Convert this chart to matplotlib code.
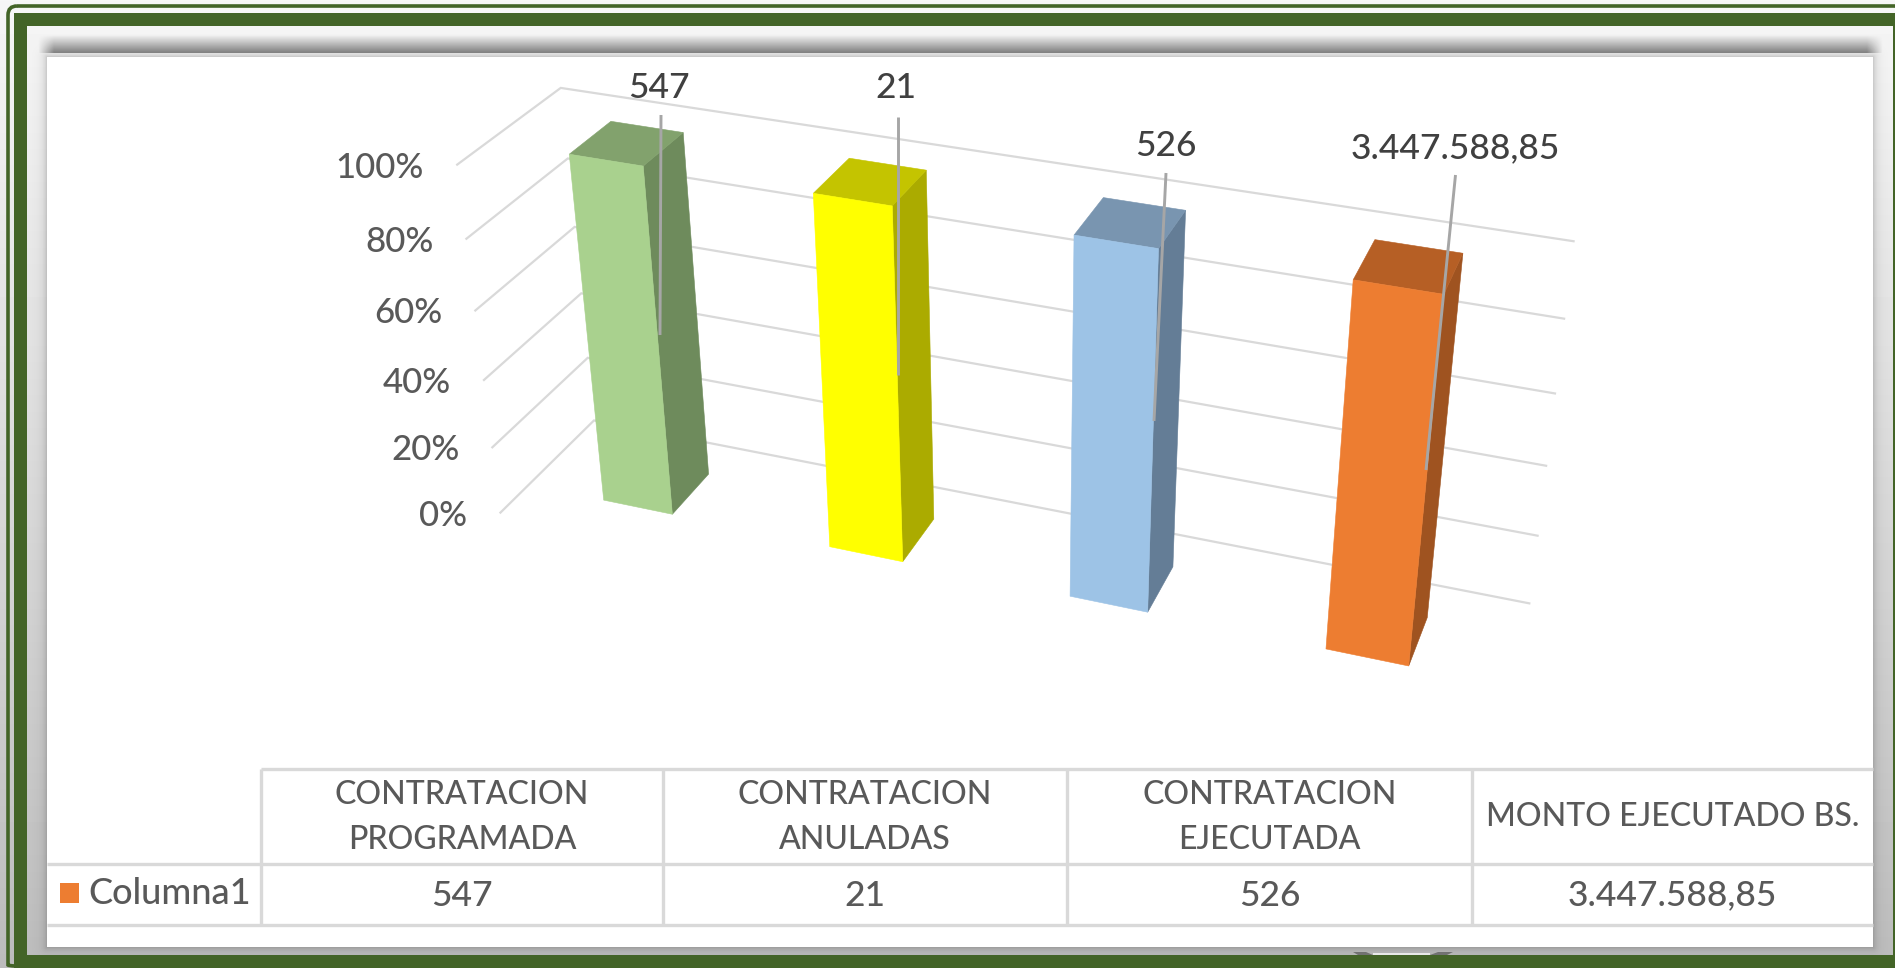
import numpy as np
import matplotlib
matplotlib.use("Agg")
import matplotlib.pyplot as plt
from matplotlib.patches import FancyBboxPatch, Polygon, Rectangle

plt.rcParams["font.family"] = ["Lato", "DejaVu Sans"]
plt.rcParams["font.weight"] = "medium"

# data
categories = ["CONTRATACION\nPROGRAMADA", "CONTRATACION\nANULADAS", "CONTRATACION\nEJECUTADA", "MONTO EJECUTADO BS."]
values = np.array([547, 21, 526, 3447588.85])
value_labels = ["547", "21", "526", "3.447.588,85"]
series_name = "Columna1"
pct_ticks = [0, 20, 40, 60, 80, 100]

front_colors = ["#A9D18E", "#FFFF00", "#9DC3E6", "#ED7D31"]
top_colors = ["#82A26D", "#C4C400", "#7995B0", "#B65F25"]
side_colors = ["#6E8B5C", "#ABAB00", "#647D96", "#9F5320"]

# 100% stacked with one series, every column fills the axis
shares = 100 * values / values

# camera of the 3d chart: x in categories, depth 0-1, fraction of the axis
CAMERA = np.array([
    [203.216, 131.5408, -78.1278, 500.4598],
    [30.67037, -65.23552, -360.5162, 512.5949],
    [-0.02981236, 0.06402897, -0.07622561, 1.0],
])
BAR_W = 0.31
DEPTH = (0.29, 0.71)

GREEN = "#436427"
GRID = "#D9D9D9"
TEXT = "#595959"
LABEL = "#404040"

PANEL = (47, 57, 1873, 947)  # left, top, right, bottom in pixels


def project(x, d, pct):
    h = CAMERA @ np.array([x, d, pct / 100, 1.0])
    return h[0] / h[2], h[1] / h[2]


def draw_frame(ax):
    w, h = 1895, 968
    shade = np.linspace(0.965, 0.735, h)[:, None]
    ax.imshow(shade, cmap="gray", vmin=0, vmax=1, extent=(0, w, h, 0), aspect="auto", zorder=0)

    ax.add_patch(FancyBboxPatch((8, 6), w, h, boxstyle="round,pad=0,rounding_size=9",
                                fc="none", ec=GREEN, lw=2.6, zorder=1))
    ax.add_patch(Rectangle((14, 13), w, h, fc=GREEN, ec="none", zorder=1))
    ax.imshow(shade[26:955], cmap="gray", vmin=0, vmax=1, extent=(27, 1893, 955, 26),
              aspect="auto", zorder=2)

    # soft shadow around the panel, heavier along the top
    xx, yy = np.meshgrid(np.arange(27, 1893) + 0.5, np.arange(26, 955) + 0.5)
    l, t, r, b = PANEL
    dx = np.maximum(np.maximum(l - xx, xx - r), 0)
    dy = np.maximum(np.maximum(t - yy, yy - b), 0)
    alpha = 0.18 * np.exp(-np.hypot(dx, dy) / 4.0)
    top_x = np.clip((xx - 38) / 16, 0, 1) * np.clip((1883 - xx) / 16, 0, 1)
    top_y = np.clip((yy - 35) / 17, 0, 1) * (yy < 53)
    alpha = np.maximum(alpha, 0.46 * top_x * top_y)
    rgba = np.zeros(alpha.shape + (4,))
    rgba[..., 3] = alpha
    ax.imshow(rgba, extent=(27, 1893, 955, 26), aspect="auto", zorder=3)

    ax.add_patch(Rectangle((l, t), r - l, b - t, fc="white", ec="none", zorder=4))

    # bit of a picture hiding under the bottom edge
    ax.add_patch(Polygon([(1353, 952), (1366, 952), (1373, 955), (1358, 955)], fc="#555555", ec="none", alpha=0.7, zorder=5))
    ax.add_patch(Polygon([(1453, 952), (1438, 952), (1430, 955), (1447, 955)], fc="#555555", ec="none", alpha=0.7, zorder=5))
    ax.add_patch(Polygon([(1373, 953), (1430, 953), (1430, 955), (1373, 955)], fc="white", ec="none", alpha=0.7, zorder=5))


def draw_walls(ax):
    for t in pct_ticks:
        pts = [project(0, 0, t), project(0, 1, t), project(len(values), 1, t)]
        ax.plot(*zip(*pts), color=GRID, lw=1.6, solid_joinstyle="miter", zorder=6)
        ax.text(pts[0][0] - 33, pts[0][1] + 3, f"{t}%", color=TEXT, fontsize=25,
                ha="right", va="center", zorder=6)


def draw_bars(ax):
    d0, d1 = DEPTH
    for i, pct in enumerate(shares):
        x0, x1 = i + 0.5 - BAR_W / 2, i + 0.5 + BAR_W / 2
        front = [project(x0, d0, 0), project(x1, d0, 0), project(x1, d0, pct), project(x0, d0, pct)]
        top = [project(x0, d0, pct), project(x1, d0, pct), project(x1, d1, pct), project(x0, d1, pct)]
        side = [project(x1, d0, 0), project(x1, d1, 0), project(x1, d1, pct), project(x1, d0, pct)]
        for poly, c in [(side, side_colors[i]), (top, top_colors[i]), (front, front_colors[i])]:
            ax.add_patch(Polygon(poly, fc=c, ec=c, lw=0.4, zorder=7))


def draw_labels(ax):
    label_xy = [(658.5, 88), (895.6, 88), (1165.5, 146), (1455.5, 148)]
    leaders = [((661, 115), (660, 335)), ((898, 117), (898, 375)),
               ((1166, 173), (1154, 421)), ((1455.5, 175), (1426, 470))]
    for txt, (x, y), (p, q) in zip(value_labels, label_xy, leaders):
        ax.plot([p[0], q[0]], [p[1], q[1]], color="#A6A6A6", lw=2.1, solid_capstyle="butt", zorder=8)
        ax.text(x, y, txt, color=LABEL, fontsize=25.5, ha="center", va="center", zorder=9)


def draw_table(ax):
    col_x = [261, 663, 1067, 1472, PANEL[2]]
    y_top, y_mid, y_bot = 769, 864, 925
    line = dict(color=GRID, lw=2.4, solid_capstyle="butt", zorder=6)
    ax.plot([col_x[0], col_x[-1]], [y_top, y_top], **line)
    for y in (y_mid, y_bot):
        ax.plot([PANEL[0], col_x[-1]], [y, y], **line)
    for x in col_x[:-1]:
        ax.plot([x, x], [y_top, y_bot], **line)

    for i, (cat, txt) in enumerate(zip(categories, value_labels)):
        cx = (col_x[i] + col_x[i + 1]) / 2
        ax.text(cx, (y_top + y_mid) / 2 + 1, cat, color=TEXT, fontsize=23, ha="center", va="center",
                linespacing=1.62, zorder=6)
        ax.text(cx, (y_mid + y_bot) / 2 + 1, txt, color=TEXT, fontsize=25.5, ha="center", va="center", zorder=6)

    ax.add_patch(Rectangle((60, 883), 19, 20, fc=front_colors[3], ec="none", zorder=6))
    ax.text(88, 894, series_name, color=TEXT, fontsize=26, ha="left", va="center", zorder=6)


fig = plt.figure(figsize=(18.95, 9.68), dpi=100)
ax = fig.add_axes([0, 0, 1, 1])
draw_frame(ax)
draw_walls(ax)
draw_bars(ax)
draw_labels(ax)
draw_table(ax)
ax.set_xlim(0, 1895)
ax.set_ylim(968, 0)
ax.axis("off")
fig.savefig("out.png", dpi=100)
